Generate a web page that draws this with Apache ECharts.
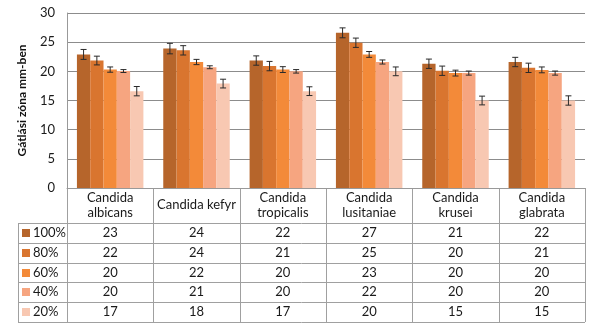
<!DOCTYPE html>
<html>
<head>
<meta charset="utf-8">
<script src="https://cdn.jsdelivr.net/npm/echarts@6/dist/echarts.min.js"></script>
<style>html,body{margin:0;padding:0;background:#fff;}#c{width:595px;height:326px;}</style>
</head>
<body>
<div id="c"></div>
<script>
// ---- data ----
const categories = ['Candida\nalbicans', 'Candida kefyr', 'Candida\ntropicalis', 'Candida\nlusitaniae', 'Candida\nkrusei', 'Candida\nglabrata'];
const seriesNames = ['100%', '80%', '60%', '40%', '20%'];
const s100 = [22.9, 23.9, 21.85, 26.6, 21.3, 21.6];
const s80  = [21.85, 23.6, 20.9, 24.9, 20.1, 20.6];
const s60  = [20.3, 21.6, 20.3, 22.9, 19.7, 20.25];
const s40  = [20.05, 20.7, 20.0, 21.6, 19.7, 19.7];
const s20  = [16.6, 17.9, 16.6, 20.0, 15.0, 15.0];
const e100 = [0.85, 0.9, 0.8, 0.85, 0.8, 0.8];
const e80  = [0.75, 0.8, 0.8, 0.8, 0.8, 0.8];
const e60  = [0.45, 0.45, 0.5, 0.5, 0.5, 0.5];
const e40  = [0.25, 0.25, 0.3, 0.35, 0.35, 0.35];
const e20  = [0.8, 0.75, 0.75, 0.75, 0.75, 0.8];
// rounded values shown in the data table
const t100 = [23, 24, 22, 27, 21, 22];
const t80  = [22, 24, 21, 25, 20, 21];
const t60  = [20, 22, 20, 23, 20, 20];
const t40  = [20, 21, 20, 22, 20, 20];
const t20  = [17, 18, 17, 20, 15, 15];
const yTicks = [0, 5, 10, 15, 20, 25, 30];

const values = [s100, s80, s60, s40, s20];
const errors = [e100, e80, e60, e40, e20];
const tableRows = [t100, t80, t60, t40, t20];
const colors = ['#B6652B', '#D9752F', '#F38A39', '#F6A580', '#F8C8B2'];

const FONT = 'Lato, "Open Sans", sans-serif';
const GAP = 0.23;
const chart = echarts.init(document.getElementById('c'));

const series = [];
values.forEach((v, i) => {
  series.push({
    type: 'bar', name: seriesNames[i], data: v, barGap: '0%', barCategoryGap: (GAP * 100) + '%',
    itemStyle: { color: colors[i] }, animation: false
  });
});
values.forEach((v, i) => {
  series.push({
    type: 'custom', z: 10, animation: false,
    data: v.map((m, k) => [k, m - errors[i][k], m + errors[i][k]]),
    renderItem: function (params, api) {
      const k = api.value(0);
      const band = api.size([1, 0])[0];
      const groupW = band * (1 - GAP);
      const bw = groupW / values.length;
      const c = api.coord([k, api.value(1)]);
      const h = api.coord([k, api.value(2)]);
      const x = c[0] - groupW / 2 + bw * (i + 0.5);
      const cap = 3;
      const st = { stroke: '#2a2a2a', lineWidth: 1 };
      return { type: 'group', children: [
        { type: 'line', shape: { x1: x, y1: c[1], x2: x, y2: h[1] }, style: st },
        { type: 'line', shape: { x1: x - cap, y1: c[1], x2: x + cap, y2: c[1] }, style: st },
        { type: 'line', shape: { x1: x - cap, y1: h[1], x2: x + cap, y2: h[1] }, style: st }
      ]};
    }
  });
});

const option = {
  animation: false,
  grid: { left: 67, right: 10, top: 13, bottom: 138 },
  xAxis: {
    type: 'category', data: categories,
    axisLine: { show: true, lineStyle: { color: '#999', width: 1 } },
    axisTick: { show: false },
    axisLabel: { interval: 0, color: '#1a1a1a', fontFamily: FONT, fontSize: 13, lineHeight: 15, verticalAlign: 'middle', margin: 17 }
  },
  yAxis: {
    type: 'value', min: 0, max: 30, interval: 5,
    name: 'Gátlási zóna mm-ben', nameLocation: 'middle', nameGap: 39, nameRotate: 90,
    nameTextStyle: { fontFamily: FONT, fontSize: 12, fontWeight: 'bold', color: '#111' },
    axisLine: { show: true, lineStyle: { color: '#999', width: 1 } },
    axisTick: { show: false },
    axisLabel: { color: '#1a1a1a', fontFamily: FONT, fontSize: 13, margin: 12,
      formatter: v => (yTicks.indexOf(v) >= 0 ? String(v) : '') },
    splitLine: { lineStyle: { color: '#8c8c8c', width: 1 } }
  },
  series: series
};
chart.setOption(option);

// ---- data table under the plot ----
const x0 = chart.convertToPixel({ xAxisIndex: 0 }, 0);
const x1 = chart.convertToPixel({ xAxisIndex: 0 }, 1);
const band = x1 - x0;
const left = x0 - band / 2;
const right = left + band * categories.length;
const yBase = chart.convertToPixel({ yAxisIndex: 0 }, 0);
const headerH = 35, rowH = 19.8, tableLeft = 18;
const lc = '#a0a0a0';
const g = [];
const rowsTop = yBase + headerH;
const bottom = rowsTop + rowH * tableRows.length;
// vertical lines
for (let i = 0; i <= categories.length; i++) {
  const x = Math.round(left + band * i) + 0.5;
  g.push({ type: 'line', shape: { x1: x, y1: yBase, x2: x, y2: bottom }, style: { stroke: lc, lineWidth: 1 } });
}
g.push({ type: 'line', shape: { x1: tableLeft + 0.5, y1: rowsTop, x2: tableLeft + 0.5, y2: bottom }, style: { stroke: lc, lineWidth: 1 } });
// horizontal lines
for (let r = 0; r <= tableRows.length; r++) {
  const y = Math.round(rowsTop + rowH * r) + 0.5;
  g.push({ type: 'line', shape: { x1: tableLeft, y1: y, x2: right, y2: y }, style: { stroke: lc, lineWidth: 1 } });
}
// row cells
tableRows.forEach((row, r) => {
  const cy = rowsTop + rowH * (r + 0.5);
  g.push({ type: 'rect', shape: { x: tableLeft + 4, y: Math.round(cy - 4), width: 8, height: 8 }, style: { fill: colors[r] } });
  g.push({ type: 'text', x: tableLeft + 15, y: cy, style: { text: seriesNames[r], fontFamily: FONT, fontSize: 13, fill: '#1a1a1a', verticalAlign: 'middle', align: 'left' } });
  row.forEach((val, k) => {
    g.push({ type: 'text', x: left + band * (k + 0.5), y: cy, style: { text: String(val), fontFamily: FONT, fontSize: 13, fill: '#1a1a1a', verticalAlign: 'middle', align: 'center' } });
  });
});
chart.setOption({ graphic: { elements: g } });
</script>
</body>
</html>
